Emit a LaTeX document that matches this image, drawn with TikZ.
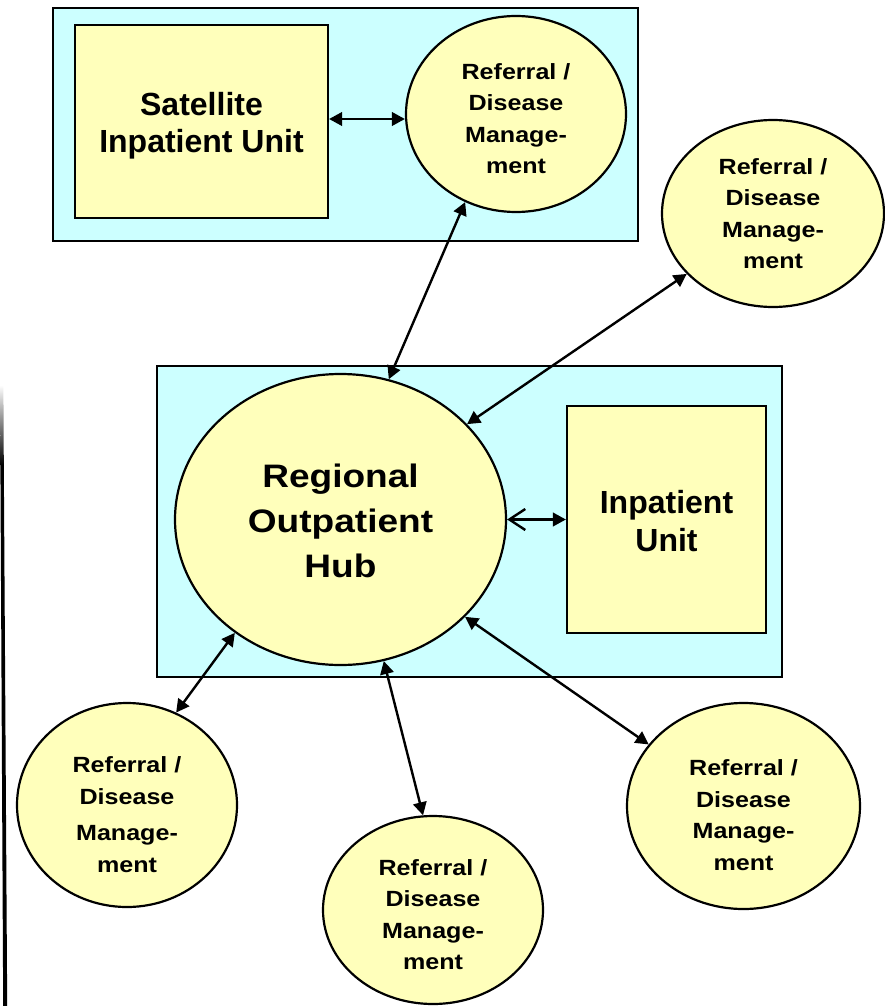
\documentclass[tikz,border=0pt]{standalone}
\usepackage{fontspec}
\setmainfont{Liberation Sans}
\newfontfamily\widefont{Liberation Sans}[FakeStretch=1.14]
\usetikzlibrary{arrows.meta,shapes.geometric}

\definecolor{boxcyan}{HTML}{CCFFFF}
\definecolor{unityellow}{HTML}{FFFFBB}

\tikzset{
  outline/.style={draw=black, line width=2.2pt},
  groupbox/.style={outline, rectangle, fill=boxcyan, inner sep=0pt},
  unitbox/.style={outline, rectangle, fill=unityellow, inner sep=0pt},
  roundbox/.style={outline, ellipse, fill=unityellow, inner sep=0pt},
  unittext/.style={align=center, inner sep=0pt,
    font=\fontsize{32}{37.5}\selectfont\bfseries},
  reftext/.style={align=center, inner sep=0pt,
    font=\widefont\fontsize{22}{31.5}\selectfont\bfseries},
  hubtext/.style={align=center, inner sep=0pt,
    font=\widefont\fontsize{32.5}{45}\selectfont\bfseries},
  tip/.tip={Triangle[length=13pt,width=13.5pt]},
  link/.style={line width=2.4pt, {tip}-{tip}},
  openlink/.style={line width=2.4pt, {Straight Barb[length=16pt,width=21pt]}-{tip}}
}

\begin{document}
\begin{tikzpicture}[x=1pt,y=-1pt]
\useasboundingbox (0,0) rectangle (885,1006);

% rule along the left margin, fading in at its top
\shade[top color=white, bottom color=black] (0,385) -- (3.4,385) -- (3.8,465) -- (0.4,465) -- cycle;
\fill[black] (0.4,465) -- (3.8,465) -- (7.2,1006) -- (3.2,1006) -- cycle;

% grouping panels
\node[groupbox, minimum width=585pt, minimum height=233pt] (topGroup) at (345.5,124.5) {};
\node[groupbox, minimum width=625pt, minimum height=311pt] (hubGroup) at (469.5,521.5) {};

% units
\node[unitbox, minimum width=253pt, minimum height=193pt,
  label={[unittext, name=satText, yshift=-4pt]center:Satellite\\Inpatient Unit}]
  (sat) at (201.5,121.5) {};
\node[unitbox, minimum width=199pt, minimum height=227pt,
  label={[unittext, name=inpatText, yshift=-1.5pt]center:Inpatient\\Unit}]
  (inpat) at (666.5,519.5) {};
\node[roundbox, minimum width=331pt, minimum height=291pt,
  label={[hubtext, name=hubText, yshift=-1pt]center:Regional\\Outpatient\\Hub}]
  (hub) at (340.5,519.5) {};

% referral / disease management sites
\node[roundbox, minimum width=220pt, minimum height=196pt,
  label={[reftext, name=refTopText, yshift=-4.5pt]center:Referral /\\Disease\\Manage-\\ment}]
  (refTop) at (516,114) {};
\node[roundbox, minimum width=222pt, minimum height=187pt,
  label={[reftext, name=refRightText]center:Referral /\\Disease\\Manage-\\ment}]
  (refRight) at (773,213.5) {};
\node[roundbox, minimum width=220pt, minimum height=204pt,
  label={[reftext, name=refBLText, yshift=-9.5pt]center:Referral /\\Disease\\[5pt]Manage-\\ment}]
  (refBL) at (127,805) {};
\node[roundbox, minimum width=220pt, minimum height=188pt,
  label={[reftext, name=refBMText, yshift=-4.5pt]center:Referral /\\Disease\\Manage-\\ment}]
  (refBM) at (433,910) {};
\node[roundbox, minimum width=233pt, minimum height=206pt,
  label={[reftext, name=refBRText, yshift=-9pt]center:Referral /\\Disease\\Manage-\\ment}]
  (refBR) at (743.5,806) {};

% connections
\draw[link] (sat.east |- 0,119) -- (refTop.west |- 0,119);
\draw[openlink] (hub.east) -- (inpat.west);
\draw[link] (refTop.240) -- (hub.71);
\draw[link] (refRight.215) -- (hub.37);
\draw[link] (hub.227) -- (refBL.62);
\draw[link] (hub.287) -- (refBM.96);
\draw[link] (hub.322) -- (refBR.147);
\end{tikzpicture}
\end{document}
